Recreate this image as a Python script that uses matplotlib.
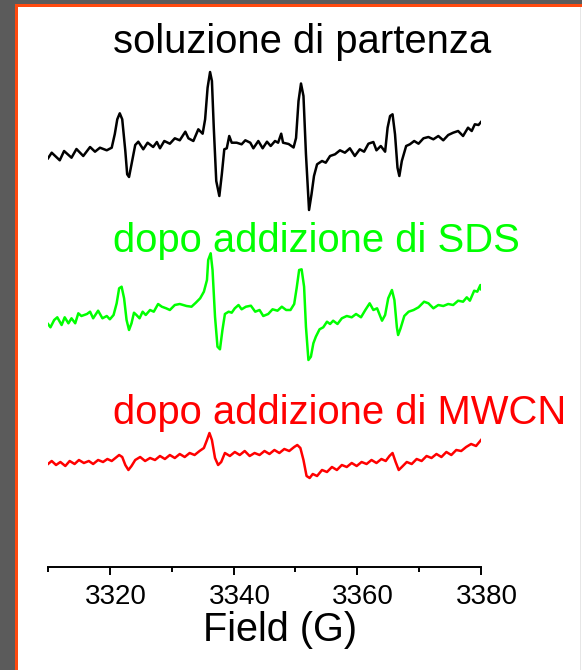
import matplotlib
matplotlib.use("Agg")
import matplotlib.pyplot as plt
import matplotlib.transforms as mtransforms
from matplotlib.patches import Rectangle
from matplotlib.ticker import MultipleLocator

plt.rcParams['font.family'] = ['Liberation Sans', 'DejaVu Sans']

# EPR spectra (field in G, intensity in arbitrary units)
field_start = [3310.0, 3310.6, 3311.9, 3312.6, 3313.8, 3314.6, 3315.7, 3316.8, 3317.6, 3318.4,
               3319.5, 3320.3, 3320.8, 3321.2, 3321.6, 3322.0, 3322.5, 3322.8, 3323.1, 3323.5,
               3324.1, 3324.6, 3325.4, 3326.1, 3327.0, 3327.6, 3328.1, 3328.8, 3329.7, 3330.5,
               3331.3, 3332.2, 3332.7, 3333.5, 3334.3, 3335.0, 3335.4, 3335.8, 3336.2, 3336.5,
               3336.8, 3337.2, 3337.7, 3338.1, 3338.5, 3338.9, 3339.3, 3339.7, 3340.5, 3341.3,
               3341.9, 3342.7, 3343.2, 3344.0, 3344.7, 3345.4, 3346.0, 3346.7, 3347.2, 3347.7,
               3348.0, 3348.9, 3349.7, 3350.1, 3350.5, 3350.9, 3351.3, 3351.7, 3352.2, 3352.6,
               3353.0, 3353.5, 3354.3, 3354.9, 3355.6, 3356.4, 3357.2, 3358.0, 3358.8, 3359.6,
               3360.4, 3361.1, 3361.8, 3362.6, 3363.1, 3363.8, 3364.5, 3364.9, 3365.3, 3365.7,
               3366.1, 3366.5, 3366.8, 3367.2, 3367.9, 3368.5, 3369.2, 3369.9, 3370.7, 3371.5,
               3372.3, 3373.1, 3373.9, 3374.7, 3375.5, 3376.3, 3377.1, 3377.9, 3378.5, 3379.0,
               3379.6, 3380.0]
signal_start = [2.7, 8.3, 0.7, 10.0, 3.3, 12.0, 5.0, 14.0, 9.3, 13.3,
                10.7, 13.3, 27.0, 41.7, 47.7, 41.7, 10.0, -13.3, -16.0, -3.3,
                16.0, 19.3, 11.7, 18.3, 14.0, 19.0, 12.7, 20.0, 17.3, 22.7,
                20.7, 29.3, 22.7, 20.0, 31.7, 27.3, 41.7, 73.3, 89.0, 80.0,
                33.3, -20.0, -35.0, -13.3, 11.7, 12.7, 25.0, 18.3, 18.3, 16.7,
                20.7, 18.3, 12.7, 20.0, 12.7, 19.3, 15.0, 20.0, 18.3, 27.3,
                18.3, 17.0, 13.5, 23.0, 60.0, 77.5, 65.0, 7.0, -49.0, -33.3,
                -15.0, -3.3, 0.0, -1.7, 5.0, 6.7, 10.7, 8.3, 12.7, 5.0,
                11.7, 9.3, 17.3, 19.0, 10.7, 15.0, 9.3, 33.3, 45.0, 46.7,
                26.7, -6.7, -15.0, 0.0, 15.0, 16.7, 20.0, 17.3, 22.7, 24.0,
                21.7, 25.0, 20.7, 26.0, 28.3, 30.0, 25.0, 33.3, 30.0, 36.7,
                36.0, 39.0]

field_sds = [3310.0, 3310.4, 3311.0, 3311.5, 3312.2, 3312.7, 3313.3, 3313.8, 3314.4, 3314.9,
             3315.4, 3316.3, 3316.8, 3317.3, 3318.1, 3318.8, 3319.5, 3320.0, 3320.6, 3321.1,
             3321.5, 3321.9, 3322.3, 3322.7, 3323.1, 3323.5, 3323.9, 3324.3, 3324.8, 3325.3,
             3325.8, 3326.5, 3327.1, 3327.8, 3328.4, 3329.1, 3329.7, 3330.5, 3331.3, 3332.4,
             3333.2, 3333.9, 3334.6, 3335.2, 3335.7, 3335.9, 3336.3, 3336.6, 3337.0, 3337.4,
             3337.8, 3338.2, 3338.6, 3339.2, 3339.7, 3340.2, 3340.8, 3341.3, 3342.0, 3342.8,
             3343.5, 3344.2, 3344.8, 3345.6, 3346.3, 3347.1, 3347.8, 3348.5, 3349.2, 3349.8,
             3350.2, 3350.6, 3351.0, 3351.4, 3351.7, 3352.1, 3352.5, 3352.9, 3353.3, 3353.9,
             3354.5, 3355.1, 3355.6, 3356.1, 3356.8, 3357.5, 3358.3, 3359.1, 3359.8, 3360.6,
             3361.3, 3362.0, 3362.6, 3363.2, 3364.0, 3364.5, 3365.0, 3365.6, 3366.0, 3366.4,
             3366.6, 3367.0, 3367.6, 3368.3, 3369.1, 3369.9, 3370.8, 3371.5, 3372.3, 3373.1,
             3373.9, 3374.7, 3375.5, 3376.3, 3377.1, 3377.7, 3378.2, 3378.9, 3379.4, 3379.9,
             3380.0]
signal_sds = [6.0, 2.7, 10.0, 12.7, 5.0, 12.7, 6.7, 11.7, 6.7, 16.7,
              14.0, 16.0, 18.3, 11.7, 19.3, 11.7, 14.0, 10.7, 15.0, 26.7,
              41.7, 43.3, 31.7, 10.0, 0.0, 6.7, 17.3, 15.0, 11.7, 18.3,
              15.0, 20.0, 18.3, 26.0, 23.3, 21.7, 20.0, 25.0, 26.0, 24.0,
              23.3, 27.3, 31.7, 38.3, 50.0, 70.0, 76.7, 60.0, 13.3, -16.7,
              -19.3, 0.0, 16.0, 18.3, 17.3, 21.7, 25.0, 20.7, 23.3, 24.3,
              18.3, 20.0, 14.0, 16.0, 20.7, 19.3, 23.3, 20.0, 20.0, 26.0,
              42.0, 60.0, 60.7, 43.3, 3.3, -30.0, -26.7, -13.3, -6.7, 0.7,
              2.7, 8.3, 6.0, 9.3, 6.0, 11.7, 14.0, 12.7, 16.0, 12.7,
              20.0, 26.7, 20.0, 21.7, 9.3, 15.0, 31.7, 40.0, 30.0, 2.7,
              -5.0, 1.7, 14.0, 18.3, 20.0, 22.7, 28.3, 26.7, 21.7, 25.0,
              24.0, 26.0, 25.0, 29.3, 28.3, 32.7, 29.3, 39.3, 38.3, 45.0,
              40.7]

field_mwcn = [3310.0, 3310.6, 3311.3, 3312.0, 3312.8, 3313.5, 3314.3, 3315.0, 3315.8, 3316.6,
              3317.3, 3318.1, 3318.9, 3319.6, 3320.3, 3320.9, 3321.5, 3322.0, 3322.5, 3323.0,
              3323.5, 3324.1, 3324.9, 3325.7, 3326.5, 3327.3, 3328.1, 3328.9, 3329.7, 3330.5,
              3331.3, 3332.1, 3332.9, 3333.7, 3334.5, 3335.2, 3335.7, 3336.1, 3336.5, 3337.0,
              3337.5, 3338.0, 3338.6, 3339.4, 3340.2, 3341.0, 3341.8, 3342.6, 3343.4, 3344.2,
              3345.0, 3345.8, 3346.6, 3347.4, 3348.2, 3349.0, 3349.8, 3350.3, 3350.8, 3351.3,
              3351.8, 3352.3, 3352.8, 3353.5, 3354.3, 3355.1, 3355.9, 3356.7, 3357.5, 3358.3,
              3359.1, 3359.9, 3360.7, 3361.5, 3362.3, 3363.1, 3363.9, 3364.6, 3365.2, 3365.7,
              3366.2, 3366.7, 3367.2, 3368.0, 3368.8, 3369.6, 3370.4, 3371.2, 3372.0, 3372.8,
              3373.6, 3374.4, 3375.2, 3376.0, 3376.8, 3377.6, 3378.4, 3379.2, 3380.0]
signal_mwcn = [6.0, 9.0, 5.0, 8.0, 4.0, 9.0, 6.0, 10.0, 7.0, 9.0,
               6.0, 10.0, 8.0, 11.0, 9.0, 12.0, 15.0, 13.0, 5.0, 0.0,
               4.0, 10.0, 13.0, 9.0, 12.0, 10.0, 14.0, 11.0, 15.0, 12.0,
               16.0, 13.0, 17.0, 15.0, 19.0, 22.0, 30.0, 37.0, 30.0, 12.0,
               5.0, 8.0, 17.0, 14.0, 18.0, 15.0, 19.0, 14.0, 17.0, 15.0,
               19.0, 16.0, 20.0, 17.0, 21.0, 19.0, 23.0, 25.0, 22.0, 10.0,
               -6.0, -8.0, -4.0, -6.0, 0.0, -2.0, 3.0, 0.0, 5.0, 3.0,
               7.0, 4.0, 8.0, 6.0, 10.0, 7.0, 11.0, 9.0, 14.0, 17.0,
               8.0, 0.0, 3.0, 8.0, 6.0, 11.0, 9.0, 14.0, 12.0, 16.0,
               13.0, 18.0, 15.0, 20.0, 19.0, 23.0, 26.0, 24.0, 30.0]

labels = ["soluzione di partenza", "dopo addizione di SDS", "dopo addizione di MWCN"]
colors = ["#000000", "#00ff00", "#ff0000"]
x_ticks = [3320, 3340, 3360, 3380]

W, H = 582, 670
fig = plt.figure(figsize=(W / 100, H / 100), dpi=100)


def fx(px):
    return px / W


def fy(py):
    return 1 - py / H


# page background and frame
fig.patches.append(Rectangle((0, 0), 1, 1, transform=fig.transFigure,
                             facecolor="#5b5b5b", edgecolor="none", zorder=-10))
fig.patches.append(Rectangle((fx(15), 0), 1, fy(4), transform=fig.transFigure,
                             facecolor="#ff4a10", edgecolor="none", zorder=-9))
fig.patches.append(Rectangle((fx(17.5), 0), 1, fy(6.5), transform=fig.transFigure,
                             facecolor="white", edgecolor="none", zorder=-8))
fig.patches.append(Rectangle((fx(580), 0), fx(1), fy(6.5), transform=fig.transFigure,
                             facecolor="#e6e6e6", edgecolor="none", zorder=-7))

ax_left, ax_right, ax_bottom, ax_top = 48, 481, 567, 30
ax = fig.add_axes([fx(ax_left), fy(ax_bottom), fx(ax_right - ax_left), (ax_bottom - ax_top) / H])
ax.set_facecolor("none")
ax.set_xlim(3310, 3380)
ax.set_ylim(0, ax_bottom - ax_top)

offsets = [406, 237, 97]
series = [(field_start, signal_start), (field_sds, signal_sds), (field_mwcn, signal_mwcn)]
for (xf, yv), off, c in zip(series, offsets, colors):
    ax.plot(xf, [v + off for v in yv], color=c, lw=1.8, solid_joinstyle="round")

for side in ("left", "right", "top"):
    ax.spines[side].set_visible(False)
ax.spines["bottom"].set_linewidth(1.4)
ax.set_yticks([])
ax.set_xticks(x_ticks)
ax.xaxis.set_minor_locator(MultipleLocator(10))
ax.tick_params(axis="x", which="major", direction="out", length=6, width=1.4,
               labelsize=20, pad=6)
ax.tick_params(axis="x", which="minor", direction="out", length=3.6, width=1.4)

# tick labels sit slightly right of their ticks
shift = mtransforms.ScaledTranslation(6 / 100, 0, fig.dpi_scale_trans)
for lbl in ax.get_xticklabels():
    lbl.set_transform(lbl.get_transform() + shift)

fig.text(fx(280), fy(641), "Field (G)", fontsize=28.5, ha="center", va="baseline")

label_baselines = [53, 252, 424]
for text, c, yb in zip(labels, colors, label_baselines):
    fig.text(fx(113), fy(yb), text, color=c, fontsize=28.8, ha="left", va="baseline")

fig.savefig("out.png", dpi=100)
